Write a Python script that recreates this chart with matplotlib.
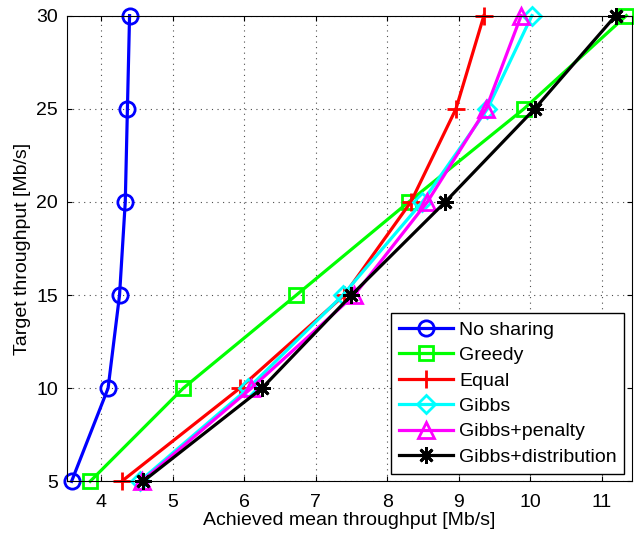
import matplotlib
matplotlib.use("Agg")
import matplotlib.pyplot as plt

plt.rcParams['font.family'] = ['Liberation Sans', 'DejaVu Sans']

target = [5, 10, 15, 20, 25, 30]
no_sharing = [3.59, 4.10, 4.26, 4.34, 4.37, 4.40]
greedy = [3.85, 5.15, 6.73, 8.30, 9.91, 11.34]
equal = [4.29, 5.94, 7.40, 8.33, 8.96, 9.35]
gibbs = [4.54, 6.06, 7.38, 8.49, 9.40, 10.02]
gibbs_pen = [4.57, 6.10, 7.54, 8.56, 9.38, 9.87]
gibbs_dist = [4.59, 6.25, 7.50, 8.81, 10.06, 11.19]

asterisk = (8, 2, 0)
series = [
    (no_sharing, 'No sharing', '#0000ff', 'o', 11),
    (greedy, 'Greedy', '#00ff00', 's', 10),
    (equal, 'Equal', '#ff0000', '+', 13),
    (gibbs, 'Gibbs', '#00ffff', 'D', 9),
    (gibbs_pen, 'Gibbs+penalty', '#ff00ff', '^', 11),
    (gibbs_dist, 'Gibbs+distribution', 'k', asterisk, 12),
]

fig = plt.figure(figsize=(6.34, 5.39), dpi=100)
ax = fig.add_axes([0.105, 0.107, 0.892, 0.864])

for vals, name, col, mk, ms in series:
    ax.plot(vals, target, color=col, marker=mk, lw=2.3, ms=ms, mew=2,
            mfc='none', label=name, clip_on=False)

ax.set_xlim(3.52, 11.42)
ax.set_ylim(5, 30)
ax.set_xticks([4, 5, 6, 7, 8, 9, 10, 11])
ax.set_yticks([5, 10, 15, 20, 25, 30])
ax.grid(True, linestyle=(0, (1, 4)), color='k', lw=0.8, alpha=0.7)
ax.tick_params(direction='in', labelsize=14, top=True, right=True)
ax.tick_params(axis='x', pad=9)
ax.tick_params(axis='y', pad=6)
ax.set_xlabel('Achieved mean throughput [Mb/s]', fontsize=14, labelpad=1)
ax.set_ylabel('Target throughput [Mb/s]', fontsize=14, labelpad=4)

leg = ax.legend(loc='lower right', fontsize=14, fancybox=False, framealpha=1,
                edgecolor='k', handlelength=2.8, borderaxespad=0.4,
                labelspacing=0.4, handletextpad=0.3, borderpad=0.4)
leg.get_frame().set_linewidth(1)

fig.savefig('out.png', dpi=100)
